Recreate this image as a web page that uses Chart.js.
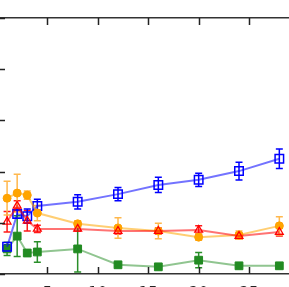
<!DOCTYPE html>
<html>
<head>
<meta charset="utf-8">
<script src="https://cdn.jsdelivr.net/npm/chart.js@4.4.1/dist/chart.umd.min.js"></script>
<style>
  html, body { margin: 0; padding: 0; overflow: hidden; background: #fff; }
  #wrap { position: absolute; left: -53px; top: 0; width: 360px; height: 320px; }
</style>
</head>
<body>
<div id="wrap"><canvas id="chart"></canvas></div>
<script>
// x positions shared by all series
const xs = [1, 2, 3, 4, 8, 12, 16, 20, 24, 28];
const xTicks = [0, 5, 10, 15, 20, 25, 30];
const yTicks = [0, 10, 20, 30, 40, 50];

const blueVals = [5.3, 11.7, 11.3, 13.3, 14.1, 15.6, 17.4, 18.4, 20.1, 22.5];
const blueErr = [0.4, 0.8, 1.4, 1.3, 1.4, 1.3, 1.5, 1.3, 1.75, 1.9];
const orangeVals = [14.8, 15.8, 15.4, 11.9, 9.8, 9.0, 8.4, 7.2, 7.6, 9.4];
const orangeErr = [3.3, 3.7, 0.8, 1.5, 0.6, 2.0, 1.5, 0.6, 0.8, 1.8];
const redVals = [10.2, 13.3, 10.4, 8.8, 8.8, 8.4, 8.4, 8.6, 7.4, 8.2];
const redErr = [2.0, 1.0, 2.0, 0.7, 0.4, 0.6, 0.6, 0.8, 0.6, 0.8];
const greenVals = [4.9, 7.4, 4.1, 4.3, 4.9, 1.8, 1.4, 2.7, 1.6, 1.6];
const greenErr = [1.3, 4.0, 0.3, 2.0, 4.5, 0.3, 0.3, 1.5, 0.3, 0.3];

function pts(vals) {
    return xs.map((x, i) => ({ x: x, y: vals[i] }));
}

// error bars with caps, drawn under the markers
const errorBars = {
    id: 'errorBars',
    beforeDatasetsDraw(chart) {
        const ctx = chart.ctx;
        const xScale = chart.scales.x, yScale = chart.scales.y;
        chart.data.datasets.forEach(ds => {
            ctx.save();
            ctx.strokeStyle = ds.errColor;
            ctx.lineWidth = 1.5;
            xs.forEach((x, i) => {
                const px = xScale.getPixelForValue(x);
                const top = yScale.getPixelForValue(ds.vals[i] + ds.err[i]);
                const bot = yScale.getPixelForValue(ds.vals[i] - ds.err[i]);
                ctx.beginPath();
                ctx.moveTo(px, top); ctx.lineTo(px, bot);
                ctx.moveTo(px - 3.5, top); ctx.lineTo(px + 3.5, top);
                ctx.moveTo(px - 3.5, bot); ctx.lineTo(px + 3.5, bot);
                ctx.stroke();
            });
            ctx.restore();
        });
    }
};

// inward tick marks on bottom, top and left
const inTicks = {
    id: 'inTicks',
    afterDraw(chart) {
        const ctx = chart.ctx, a = chart.chartArea;
        const xScale = chart.scales.x, yScale = chart.scales.y;
        ctx.save();
        ctx.strokeStyle = '#222';
        ctx.lineWidth = 1.5;
        ctx.beginPath();
        xTicks.forEach(t => {
            const px = Math.round(xScale.getPixelForValue(t)) + 0.5;
            ctx.moveTo(px, a.bottom); ctx.lineTo(px, a.bottom - 7);
            ctx.moveTo(px, a.top); ctx.lineTo(px, a.top + 7);
        });
        yTicks.forEach(t => {
            const py = Math.round(yScale.getPixelForValue(t)) + 0.5;
            ctx.moveTo(a.left, py); ctx.lineTo(a.left + 8, py);
        });
        ctx.stroke();
        ctx.restore();
    }
};

function noPad(s) {
    s.paddingLeft = 0; s.paddingRight = 0; s.paddingTop = 0; s.paddingBottom = 0;
}

const ctx = document.getElementById('chart').getContext('2d');
new Chart(ctx, {
    type: 'line',
    data: {
        datasets: [{
            data: pts(redVals), vals: redVals, err: redErr, errColor: '#ff1a1a',
            borderColor: 'rgba(255,0,0,0.55)', borderWidth: 2,
            pointStyle: 'triangle', pointRadius: 4.5, pointBorderWidth: 1.3,
            pointBorderColor: '#ff0000', pointBackgroundColor: 'rgba(0,0,0,0)'
        }, {
            data: pts(orangeVals), vals: orangeVals, err: orangeErr, errColor: '#ffb84d',
            borderColor: 'rgba(255,165,0,0.55)', borderWidth: 2,
            pointStyle: 'circle', pointRadius: 4, pointBorderWidth: 1,
            pointBorderColor: '#ffa000', pointBackgroundColor: '#ffa500'
        }, {
            data: pts(blueVals), vals: blueVals, err: blueErr, errColor: '#0000ff',
            borderColor: 'rgba(0,0,255,0.55)', borderWidth: 2,
            pointStyle: 'rect', pointRadius: 6, pointBorderWidth: 1.5,
            pointBorderColor: '#0000ff', pointBackgroundColor: 'rgba(0,0,0,0)'
        }, {
            data: pts(greenVals), vals: greenVals, err: greenErr, errColor: '#2a8f2a',
            borderColor: 'rgba(34,139,34,0.5)', borderWidth: 2,
            pointStyle: 'rect', pointRadius: 5.5, pointBorderWidth: 1,
            pointBorderColor: '#228b22', pointBackgroundColor: '#228b22'
        }]
    },
    options: {
        responsive: true,
        maintainAspectRatio: false,
        animation: false,
        layout: { padding: { left: 0, right: 4, top: 0, bottom: 0 } },
        plugins: { legend: { display: false }, tooltip: { enabled: false } },
        elements: { line: { tension: 0 } },
        scales: {
            x: {
                type: 'linear', position: 'bottom', min: 0, max: 30,
                afterBuildTicks: s => { s.ticks = xTicks.map(v => ({ value: v })); },
                grid: { display: false, drawTicks: false },
                border: { display: true, color: '#333', width: 1.5 },
                ticks: { padding: 11, color: '#222', font: { size: 15, family: 'DejaVu Sans' } },
                afterFit: s => { s.height = 46; noPad(s); }
            },
            x2: {
                type: 'linear', position: 'top', min: 0, max: 30,
                grid: { display: false, drawTicks: false },
                border: { display: true, color: '#333', width: 1.5 },
                ticks: { display: false },
                afterFit: s => { s.height = 18; noPad(s); }
            },
            y: {
                type: 'linear', min: 0, max: 50,
                afterBuildTicks: s => { s.ticks = yTicks.map(v => ({ value: v })); },
                grid: { display: false, drawTicks: false },
                border: { display: true, color: '#333', width: 1.5 },
                ticks: { display: false },
                afterFit: s => { s.width = 50; noPad(s); }
            }
        }
    },
    plugins: [errorBars, inTicks]
});
</script>
</body>
</html>
